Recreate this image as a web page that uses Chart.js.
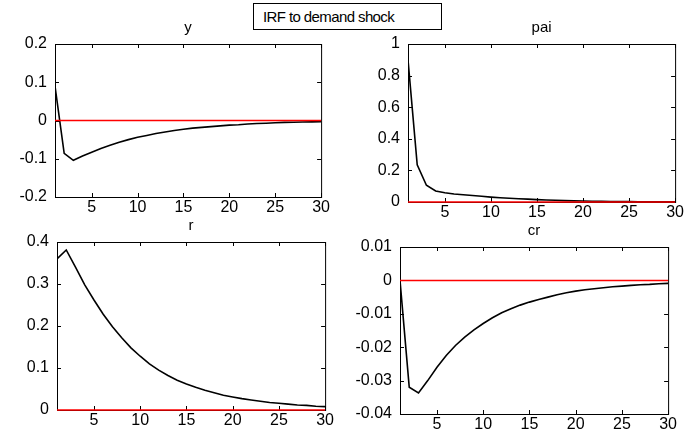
<!DOCTYPE html>
<html>
<head>
<meta charset="utf-8">
<script src="https://cdn.jsdelivr.net/npm/chart.js@4.4.1/dist/chart.umd.min.js"></script>
<style>
  html, body { margin: 0; padding: 0; background: #fff; overflow: hidden; }
  body { width: 685px; height: 436px; position: relative; }
  canvas { position: absolute; }
  #head {
    position: absolute; left: 253px; top: 3px; width: 178px; height: 25px;
    border: 1px solid #000; font: 15px "Liberation Sans", Arial, sans-serif;
    letter-spacing: -0.6px; line-height: 25px; padding-left: 9px; box-sizing: content-box;
  }
</style>
</head>
<body>
<div id="head">IRF to demand shock</div>
<canvas id="c1"></canvas>
<canvas id="c2"></canvas>
<canvas id="c3"></canvas>
<canvas id="c4"></canvas>
<script>
var periods = [1, 2, 3, 4, 5, 6, 7, 8, 9, 10, 11, 12, 13, 14, 15, 16, 17, 18, 19, 20, 21, 22, 23, 24, 25, 26, 27, 28, 29, 30];
var xTicks = [5, 10, 15, 20, 25, 30];

var yVals = [0.09, -0.086, -0.104, -0.093, -0.083, -0.073, -0.065, -0.057, -0.050, -0.044,
  -0.039, -0.034, -0.030, -0.026, -0.023, -0.020, -0.018, -0.016, -0.014, -0.012,
  -0.011, -0.009, -0.008, -0.007, -0.006, -0.005, -0.0045, -0.004, -0.0035, -0.003];
var paiVals = [0.90, 0.235, 0.106, 0.070, 0.059, 0.051, 0.046, 0.041, 0.036, 0.031,
  0.027, 0.024, 0.021, 0.018, 0.015, 0.013, 0.011, 0.009, 0.007, 0.006,
  0.005, 0.004, 0.0035, 0.003, 0.0025, 0.002, 0.0017, 0.0015, 0.0012, 0.001];
var rVals = [0.36, 0.381, 0.340, 0.298, 0.262, 0.228, 0.198, 0.172, 0.148, 0.128,
  0.110, 0.095, 0.082, 0.071, 0.062, 0.054, 0.047, 0.041, 0.035, 0.031,
  0.027, 0.024, 0.021, 0.018, 0.016, 0.014, 0.012, 0.011, 0.009, 0.008];
var crVals = [0, -0.032, -0.0337, -0.030, -0.026, -0.0225, -0.0195, -0.0170, -0.0148, -0.0129,
  -0.0112, -0.0097, -0.0085, -0.0074, -0.0065, -0.0057, -0.0050, -0.0043, -0.0037, -0.0032,
  -0.0028, -0.0025, -0.0022, -0.0019, -0.0017, -0.0015, -0.0013, -0.0012, -0.0010, -0.0009];

var yTicksY = [-0.2, -0.1, 0, 0.1, 0.2];
var yTicksPai = [0, 0.2, 0.4, 0.6, 0.8, 1];
var yTicksR = [0, 0.1, 0.2, 0.3, 0.4];
var yTicksCr = [-0.04, -0.03, -0.02, -0.01, 0, 0.01];

var FONT = { family: '"Liberation Sans", Arial, sans-serif', size: 16 };
var TITLE_FONT = '15px "Liberation Sans", Arial, sans-serif';

// frame with inward ticks on all four sides, plus the panel title
var framePlugin = {
  id: 'frame',
  beforeDatasetsDraw: function (chart) {
    var a = chart.chartArea, ctx = chart.ctx;
    ctx.save();
    ctx.strokeStyle = '#000';
    ctx.lineWidth = 1;
    ctx.strokeRect(a.left + 0.5, a.top + 0.5, a.right - a.left, a.bottom - a.top);
    var xs = chart.scales.x, ys = chart.scales.y;
    ctx.beginPath();
    xs.ticks.forEach(function (t) {
      var px = Math.round(xs.getPixelForValue(t.value)) + 0.5;
      ctx.moveTo(px, a.bottom); ctx.lineTo(px, a.bottom - 4);
      ctx.moveTo(px, a.top); ctx.lineTo(px, a.top + 4);
    });
    ys.ticks.forEach(function (t) {
      var py = Math.round(ys.getPixelForValue(t.value)) + 0.5;
      ctx.moveTo(a.left, py); ctx.lineTo(a.left + 4, py);
      ctx.moveTo(a.right, py); ctx.lineTo(a.right - 4, py);
    });
    ctx.stroke();
    ctx.restore();
  },
  afterDraw: function (chart, args, opts) {
    var a = chart.chartArea, ctx = chart.ctx;
    ctx.save();
    ctx.fillStyle = '#000';
    ctx.font = TITLE_FONT;
    ctx.textAlign = 'center';
    ctx.textBaseline = 'alphabetic';
    ctx.fillText(opts.text, (a.left + a.right) / 2, a.top - 12);
    ctx.restore();
  }
};

function panel(id, box, title, values, yTicks) {
  var cv = document.getElementById(id);
  var padL = 55, padT = 30, padB = 24, padR = 8;
  cv.width = padL + box.w + padR;
  cv.height = padT + box.h + padB;
  cv.style.left = (box.left - padL) + 'px';
  cv.style.top = (box.top - padT) + 'px';

  new Chart(cv.getContext('2d'), {
    type: 'line',
    data: {
      datasets: [{
        data: [{ x: periods[0], y: 0 }, { x: periods[periods.length - 1], y: 0 }],
        borderColor: '#ff0000',
        borderWidth: 1.5,
        pointRadius: 0,
        clip: false
      }, {
        data: periods.map(function (p, i) { return { x: p, y: values[i] }; }),
        borderColor: '#000',
        borderWidth: 1.6,
        pointRadius: 0,
        tension: 0
      }]
    },
    options: {
      responsive: false,
      animation: false,
      layout: { padding: { top: padT, right: padR, left: 0, bottom: 0 } },
      plugins: { legend: { display: false }, tooltip: { enabled: false }, frame: { text: title } },
      scales: {
        x: {
          type: 'linear',
          min: periods[0], max: periods[periods.length - 1],
          afterBuildTicks: function (s) { s.ticks = xTicks.map(function (v) { return { value: v }; }); },
          afterFit: function (s) { s.height = padB; },
          grid: { display: false, drawTicks: false },
          border: { display: false },
          ticks: { color: '#000', font: FONT, padding: 1, maxRotation: 0 }
        },
        y: {
          min: yTicks[0], max: yTicks[yTicks.length - 1],
          afterBuildTicks: function (s) { s.ticks = yTicks.map(function (v) { return { value: v }; }); },
          afterFit: function (s) { s.width = padL; },
          grid: { display: false, drawTicks: false },
          border: { display: false },
          ticks: { color: '#000', font: FONT, padding: 8, callback: function (v) { return String(+v.toFixed(2)); } }
        }
      }
    },
    plugins: [framePlugin]
  });
}

panel('c1', { left: 55, top: 44, w: 268, h: 153 }, 'y', yVals, yTicksY);
panel('c2', { left: 408, top: 44, w: 269, h: 158 }, 'pai', paiVals, yTicksPai);
panel('c3', { left: 57, top: 242, w: 270, h: 168 }, 'r', rVals, yTicksR);
panel('c4', { left: 400, top: 247, w: 270, h: 167 }, 'cr', crVals, yTicksCr);
</script>
</body>
</html>
